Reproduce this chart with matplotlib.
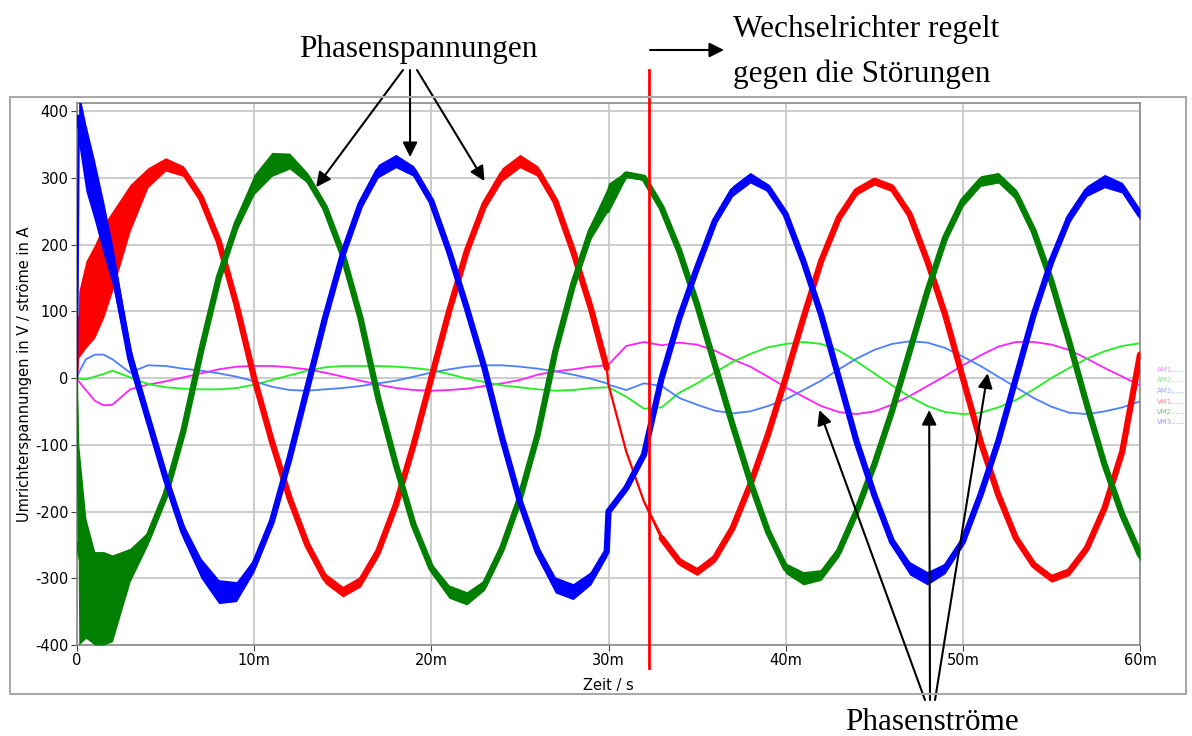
import matplotlib
matplotlib.use('Agg')
import matplotlib.pyplot as plt
import numpy as np
from matplotlib.patches import Rectangle

# time axis in ms (denser at the start and around the step at 30 ms)
t_ms = [0, 0.1, 0.5, 1, 1.5, 2,
        3, 4, 5, 6, 7, 8, 9,
        10, 11, 12, 13, 14, 15, 16, 17, 18, 19,
        20, 21, 22, 23, 24, 25, 26, 27, 28, 29,
        29.9,
        30, 31, 32, 33, 34, 35, 36, 37, 38, 39,
        40, 41, 42, 43, 44, 45, 46, 47, 48, 49,
        50, 51, 52, 53, 54, 55, 56, 57, 58, 59, 60]

# phase voltages (V), centre of the noisy trace
u_rot = [0, 80, 110, 130, 160, 190,
         255, 300, 320, 310, 270, 205, 110,
         0, -95, -180, -250, -300, -320, -305, -260, -190, -100,
         0, 100, 190, 260, 305, 325, 310, 265, 190, 105,
         15,
         -10, -110, -185, -240, -275, -290, -270, -225, -160, -85,
         0, 90, 175, 240, 280, 295, 285, 245, 175, 95,
         0, -95, -175, -240, -280, -300, -290, -255, -195, -110, 35]
u_gruen = [0, -250, -300, -330, -330, -330,
           -280, -240, -175, -80, 40, 150, 230,
           290, 320, 325, 300, 255, 185, 90, -30, -130, -220,
           -285, -320, -330, -310, -255, -180, -85, 40, 140, 220,
           265,
           270, 305, 300, 255, 190, 110, 20, -70, -155, -230,
           -285, -300, -295, -260, -200, -130, -50, 40, 130, 210,
           265, 295, 300, 275, 220, 145, 55, -40, -130, -205, -265]
u_blau = [0, 390, 330, 280, 225, 170,
          30, -60, -150, -230, -285, -320, -320,
          -280, -215, -120, -15, 90, 185, 260, 310, 325, 310,
          265, 190, 105, 15, -90, -185, -260, -310, -320, -300,
          -260,
          -200, -165, -115, 0, 90, 165, 235, 280, 300, 285,
          245, 175, 95, 0, -95, -175, -245, -285, -300, -285,
          -245, -175, -95, 0, 95, 175, 240, 280, 295, 285, 245]

# half width of the switching noise band (V)
n_rot = [0, 50, 65, 70, 70, 60,
         35, 15, 10, 8, 8, 8, 8,
         8, 8, 8, 8, 8, 8, 8, 8, 8, 8,
         8, 8, 8, 8, 10, 10, 8, 8, 8, 8,
         8,
         1, 1, 2, 6, 6, 6, 6, 6, 6, 6,
         6, 6, 6, 6, 6, 6, 6, 6, 6, 6,
         6, 6, 6, 6, 6, 6, 6, 6, 6, 6, 6]
n_gruen = [0, 150, 90, 70, 70, 65,
           25, 10, 8, 8, 8, 10, 10,
           15, 18, 12, 8, 8, 8, 8, 8, 8, 8,
           8, 10, 10, 8, 8, 8, 8, 8, 10, 12,
           18,
           22, 5, 4, 6, 8, 8, 10, 8, 8, 8,
           8, 10, 8, 8, 8, 8, 8, 8, 8, 8,
           8, 8, 8, 8, 8, 10, 10, 10, 12, 10, 10]
n_blau = [0, 40, 50, 45, 40, 30,
          18, 12, 10, 12, 15, 18, 15,
          10, 8, 8, 8, 8, 8, 8, 10, 10, 8,
          8, 8, 8, 8, 8, 8, 10, 12, 12, 10,
          8,
          4, 4, 4, 5, 6, 6, 6, 8, 8, 6,
          6, 6, 6, 6, 6, 6, 8, 10, 10, 8,
          6, 6, 6, 6, 6, 8, 8, 8, 10, 8, 8]

# phase currents (A)
i_magenta = [0, -5, -18, -34, -41, -40,
             -17, -10, -5, 1, 7, 13, 17,
             18, 18, 16, 13, 8, 2, -4, -10, -15, -18,
             -19, -18, -16, -12, -8, -3, 5, 10, 13, 17,
             19,
             20, 48, 54, 49, 53, 50, 41, 28, 17, 2,
             -14, -28, -42, -51, -54, -50, -40, -27, -12, 3,
             19, 34, 47, 54, 54, 50, 42, 29, 15, 2, -11]
i_gruen = [0, -1, -2, 2, 6, 11,
           1, -9, -14, -16, -17, -17, -15,
           -10, -3, 4, 11, 16, 18, 18, 18, 17, 15,
           12, 6, -1, -6, -11, -14, -17, -19, -18, -15,
           -14,
           -14, -28, -46, -44, -22, -8, 8, 24, 36, 46,
           51, 54, 51, 41, 25, 7, -11, -28, -42, -51,
           -54, -52, -44, -33, -17, 0, 15, 29, 40, 48, 52]
i_blau = [0, 8, 28, 35, 35, 28,
          8, 19, 18, 14, 11, 7, 2,
          -5, -13, -18, -19, -17, -15, -12, -8, -4, 2,
          8, 13, 17, 19, 19, 17, 14, 10, 5, -1,
          -8,
          -10, -18, -8, -12, -30, -40, -49, -53, -50, -42,
          -32, -18, -4, 13, 29, 42, 51, 55, 53, 45,
          32, 18, 2, -14, -30, -43, -52, -54, -50, -44, -35]

t_regel = 32.3  # inverter starts controlling
x_ticks = [0, 10, 20, 30, 40, 50, 60]
x_labels = ['0', '10m', '20m', '30m', '40m', '50m', '60m']
y_ticks = [-400, -300, -200, -100, 0, 100, 200, 300, 400]
legend_names = ['AM1......', 'AM2......', 'AM3......', 'VM1......', 'VM2......', 'VM3......']
legend_colors = ['#ff88ff', '#88ee88', '#99aaff', '#ff8888', '#88bb88', '#9999ff']

fig = plt.figure(figsize=(11.92, 7.36), dpi=100)
ax = fig.add_axes([77/1192, 91/736, 1063/1192, 542/736])

ax.set_xlim(0, 60)
ax.set_ylim(-400, 412)
ax.set_xticks(x_ticks)
ax.set_xticklabels(x_labels)
ax.set_yticks(y_ticks)
ax.set_yticklabels([str(v) for v in y_ticks])
ax.grid(True, color='#c8c8c8', lw=1.3)
ax.set_axisbelow(True)
for s in ax.spines.values():
    s.set_color('#8a8a8a')
    s.set_linewidth(1.2)
ax.tick_params(direction='out', length=4, color='#404040', labelsize=10.5, pad=2)
for lab in ax.get_xticklabels() + ax.get_yticklabels():
    lab.set_family('DejaVu Sans')
ax.set_xlabel('Zeit / s', fontsize=10.5, family='DejaVu Sans', labelpad=7)
ax.set_ylabel('Umrichterspannungen in V / ströme in A', fontsize=10.5,
              family='DejaVu Sans', labelpad=2)

# currents (thin lines, below the voltages)
ax.plot(t_ms, i_magenta, color='#ff22ff', lw=1.3, zorder=2)
ax.plot(t_ms, i_gruen, color='#22ee22', lw=1.3, zorder=2)
ax.plot(t_ms, i_blau, color='#4d7fff', lw=1.3, zorder=2)

# voltages: noise band + thick trace where noisy, thin where clean
for u, n, c in [(u_rot, n_rot, '#ff0000'), (u_gruen, n_gruen, '#007f00'), (u_blau, n_blau, '#0000ff')]:
    u = np.array(u, dtype=float)
    n = np.array(n, dtype=float)
    ax.fill_between(t_ms, u - n, u + n, color=c, lw=0, zorder=3)
    ax.plot(t_ms, u, color=c, lw=1.6, zorder=3)
    ax.plot(t_ms, np.where(n >= 4, u, np.nan), color=c, lw=4.5,
            solid_joinstyle='round', solid_capstyle='round', zorder=3)

# red marker line
ax.plot([t_regel, t_regel], [-434, 461], color='#ff0000', lw=2, clip_on=False, zorder=5)

# outer frame
fig.add_artist(Rectangle((10/1192, 42/736), 1176/1192, 597/736, transform=fig.transFigure,
                         fill=False, ec='#a8a8a8', lw=1.5))

# small legend on the right
for k, (name, col) in enumerate(zip(legend_names, legend_colors)):
    fig.text(1157/1192, (736 - 370 - 10.5*k)/736, name, color=col, fontsize=5,
             family='DejaVu Sans', va='center', ha='left')

serif = 'Liberation Serif'
fig.text(418, 736 - 50, 'Phasenspannungen', transform=None, fontsize=22.5, family=serif,
         ha='center', va='center')
fig.text(733, 736 - 30, 'Wechselrichter regelt', transform=None, fontsize=22.5, family=serif,
         ha='left', va='center')
fig.text(733, 736 - 74, 'gegen die Störungen', transform=None, fontsize=22.5, family=serif,
         ha='left', va='center')
fig.text(932, 736 - 722, 'Phasenströme', transform=None, fontsize=22.5, family=serif,
         ha='center', va='center')

arrow = dict(arrowstyle='-|>', color='black', lw=1.5, mutation_scale=22, shrinkA=0, shrinkB=0)
for sx, tx, ty in [(403, 13.5, 286), (410, 18.8, 331), (417, 23.0, 295)]:
    ax.annotate('', xy=(tx, ty), xycoords='data', xytext=(sx, 736 - 70),
                textcoords='figure pixels', arrowprops=arrow, annotation_clip=False)
for sx, tx, ty in [(925, 41.9, -48), (930, 48.1, -48), (935, 51.4, 7)]:
    ax.annotate('', xy=(tx, ty), xycoords='data', xytext=(sx, 736 - 700),
                textcoords='figure pixels', arrowprops=arrow, annotation_clip=False)
ax.annotate('', xy=(724, 736 - 50), xycoords='figure pixels', xytext=(650, 736 - 50),
            textcoords='figure pixels', arrowprops=arrow)

fig.savefig('out.png', dpi=100)
